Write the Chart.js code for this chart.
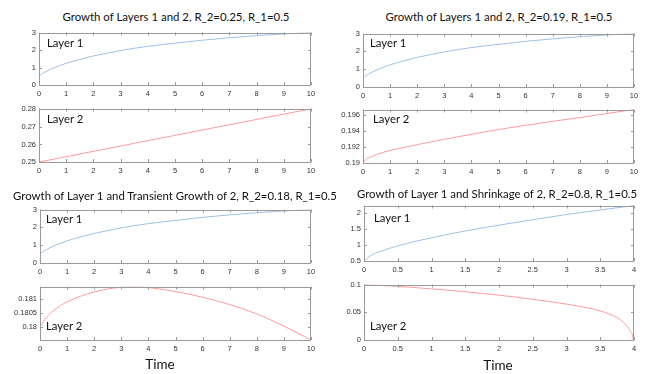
<!DOCTYPE html>
<html>
<head>
<meta charset="utf-8">
<script src="https://cdn.jsdelivr.net/npm/chart.js@4"></script>
<style>
  html, body { margin: 0; padding: 0; background: #fff; }
  body { width: 664px; height: 374px; position: relative; overflow: hidden; font-family: Lato, "Open Sans", sans-serif; }
  canvas { position: absolute; }
  .title { position: absolute; font-size: 11.4px; color: #111; white-space: nowrap; transform: translateX(-50%); line-height: 14px; }
  .layer { position: absolute; font-size: 11.3px; color: #111; white-space: nowrap; line-height: 14px; }
  .xlabel { position: absolute; font-size: 13.5px; color: #111; transform: translateX(-50%); line-height: 16px; }
</style>
</head>
<body>
<script>
// --- data ---
const time10Ticks = [0, 1, 2, 3, 4, 5, 6, 7, 8, 9, 10];
const time4Ticks = [0, 0.5, 1, 1.5, 2, 2.5, 3, 3.5, 4];

// Layer 1 (same curve in the three 0..10 panels)
const layer1Time = [0, 0.1, 0.25, 0.5, 1, 1.5, 2, 2.5, 3, 4, 5, 6, 7, 8, 9, 10];
const layer1Values = [0.5, 0.63, 0.76, 0.95, 1.24, 1.46, 1.66, 1.82, 1.97, 2.21, 2.39, 2.56, 2.7, 2.82, 2.92, 3.0];
const layer1Ticks = [0, 1, 2, 3];

// Panel A, layer 2 (R_2=0.25)
const a2Time = [0, 5, 10];
const a2Values = [0.25, 0.2652, 0.2803];
const a2Ticks = [0.25, 0.26, 0.27, 0.28];

// Panel B, layer 2 (R_2=0.19)
const b2Time = [0, 0.1, 0.25, 0.5, 1, 2, 3, 4, 5, 6, 7, 8, 9, 10];
const b2Values = [0.19, 0.19045, 0.1907, 0.19105, 0.19155, 0.19228, 0.19295, 0.19357, 0.19416, 0.19469, 0.19518, 0.19565, 0.19615, 0.19665];
const b2Ticks = [0.19, 0.192, 0.194, 0.196];

// Panel C, layer 2 (R_2=0.18, transient)
const c2Time = [0, 0.25, 0.5, 0.75, 1, 1.5, 2, 2.5, 3, 3.5, 4, 5, 6, 7, 8, 9, 10];
const c2Values = [0.18, 0.18035, 0.18058, 0.18076, 0.1809, 0.1811, 0.18125, 0.18136, 0.18142, 0.18144, 0.18141, 0.18127, 0.18106, 0.1808, 0.18046, 0.18002, 0.17952];
const c2Ticks = [0.18, 0.1805, 0.181];

// Panel D (R_2=0.8, shrinkage), time 0..4
const d1Time = [0, 0.1, 0.25, 0.5, 1, 1.5, 2, 2.5, 3, 3.5, 4];
const d1Values = [0.5, 0.67, 0.8, 0.97, 1.22, 1.43, 1.61, 1.78, 1.94, 2.08, 2.22];
const d1Ticks = [0.5, 1, 1.5, 2];
const d2Time = [0, 0.5, 1, 1.5, 2, 2.5, 3, 3.25, 3.5, 3.65, 3.75, 3.85, 3.9, 3.95, 3.98, 3.99];
const d2Values = [0.1, 0.0966, 0.0922, 0.087, 0.0808, 0.0734, 0.0646, 0.0593, 0.0525, 0.046, 0.0405, 0.031, 0.0245, 0.0155, 0.0075, 0];
const d2Ticks = [0, 0.05, 0.1];

const BLUE = '#9ec2e6';
const RED = '#ff9c9c';
const BOX = '#9a9a9a';

// box + inward ticks on all four sides, matlab style
const boxPlugin = {
  id: 'box',
  afterDatasetsDraw(chart) {
    const { ctx, chartArea: a, scales } = chart;
    ctx.save();
    ctx.strokeStyle = BOX;
    ctx.lineWidth = 1;
    ctx.beginPath();
    scales.x.ticks.forEach(t => {
      const px = Math.round(scales.x.getPixelForValue(t.value)) + 0.5;
      ctx.moveTo(px, a.bottom); ctx.lineTo(px, a.bottom - 3);
      ctx.moveTo(px, a.top); ctx.lineTo(px, a.top + 3);
    });
    scales.y.ticks.forEach(t => {
      const py = Math.round(scales.y.getPixelForValue(t.value)) + 0.5;
      ctx.moveTo(a.left, py); ctx.lineTo(a.left + 3, py);
      ctx.moveTo(a.right, py); ctx.lineTo(a.right - 3, py);
    });
    ctx.stroke();
    ctx.strokeRect(Math.round(a.left) + 0.5, Math.round(a.top) + 0.5,
      Math.round(a.width) - 1, Math.round(a.height) - 1);
    ctx.restore();
  }
};

function fmt(v) { return String(+v.toFixed(6)); }

function panel(box, xs, ys, color, xTicks, yTicks, yMin, yMax) {
  const [L, T, R, B] = box;
  const yw = 40, xh = 18, pt = 6, pr = 10;
  const c = document.createElement('canvas');
  c.width = (R - L) + yw + pr;
  c.height = (B - T) + pt + xh;
  c.style.left = (L - yw) + 'px';
  c.style.top = (T - pt) + 'px';
  document.body.appendChild(c);
  new Chart(c, {
    type: 'line',
    data: {
      datasets: [{
        data: xs.map((x, i) => ({ x: x, y: ys[i] })),
        borderColor: color,
        borderWidth: 1,
        pointRadius: 0,
        cubicInterpolationMode: 'monotone',
        fill: false
      }]
    },
    options: {
      responsive: false,
      animation: false,
      devicePixelRatio: 1,
      layout: { padding: { top: pt, right: pr, left: 0, bottom: 0 } },
      plugins: { legend: { display: false }, tooltip: { enabled: false } },
      scales: {
        x: {
          type: 'linear',
          min: xTicks[0], max: xTicks[xTicks.length - 1],
          grid: { display: false, drawTicks: false },
          border: { display: false },
          afterBuildTicks: s => { s.ticks = xTicks.map(v => ({ value: v })); },
          afterFit: s => { s.height = xh; },
          ticks: { font: { size: 7.5, family: 'Liberation Sans' }, color: '#333', padding: 4, maxRotation: 0, autoSkip: false, callback: fmt }
        },
        y: {
          type: 'linear',
          min: yMin, max: yMax,
          grid: { display: false, drawTicks: false },
          border: { display: false },
          afterBuildTicks: s => { s.ticks = yTicks.map(v => ({ value: v })); },
          afterFit: s => { s.width = yw; },
          ticks: { font: { size: 7.5, family: 'Liberation Sans' }, color: '#333', padding: 3, autoSkip: false, callback: fmt }
        }
      }
    },
    plugins: [boxPlugin]
  });
}

function text(cls, str, x, y) {
  const d = document.createElement('div');
  d.className = cls;
  d.textContent = str;
  d.style.left = x + 'px';
  d.style.top = y + 'px';
  document.body.appendChild(d);
}

panel([39, 31, 311, 85], layer1Time, layer1Values, BLUE, time10Ticks, layer1Ticks, 0, 3);
panel([39, 107, 311, 162], a2Time, a2Values, RED, time10Ticks, a2Ticks, 0.25, 0.2805);
panel([363, 32, 634, 87], layer1Time, layer1Values, BLUE, time10Ticks, layer1Ticks, 0, 3);
panel([363, 108, 634, 163], b2Time, b2Values, RED, time10Ticks, b2Ticks, 0.19, 0.19665);
panel([40, 208, 311, 263], layer1Time, layer1Values, BLUE, time10Ticks, layer1Ticks, 0, 3);
panel([40, 285, 311, 340], c2Time, c2Values, RED, time10Ticks, c2Ticks, 0.17952, 0.18145);
panel([364, 204, 634, 261], d1Time, d1Values, BLUE, time4Ticks, d1Ticks, 0.5, 2.22);
panel([364, 283, 634, 340], d2Time, d2Values, RED, time4Ticks, d2Ticks, 0, 0.1);

text('title', 'Growth of Layers 1 and 2, R_2=0.25, R_1=0.5', 176, 10);
text('title', 'Growth of Layers 1 and 2, R_2=0.19, R_1=0.5', 499, 10);
text('title', 'Growth of Layer 1 and Transient Growth of 2, R_2=0.18, R_1=0.5', 175, 189);
text('title', 'Growth of Layer 1 and Shrinkage of 2, R_2=0.8, R_1=0.5', 497, 187);

text('layer', 'Layer 1', 47, 36);
text('layer', 'Layer 2', 47, 112);
text('layer', 'Layer 1', 370, 36);
text('layer', 'Layer 2', 373, 112);
text('layer', 'Layer 1', 46, 212);
text('layer', 'Layer 2', 46, 319);
text('layer', 'Layer 1', 374, 211);
text('layer', 'Layer 2', 370, 319);

text('xlabel', 'Time', 160, 356);
text('xlabel', 'Time', 498, 357);
</script>
</body>
</html>
